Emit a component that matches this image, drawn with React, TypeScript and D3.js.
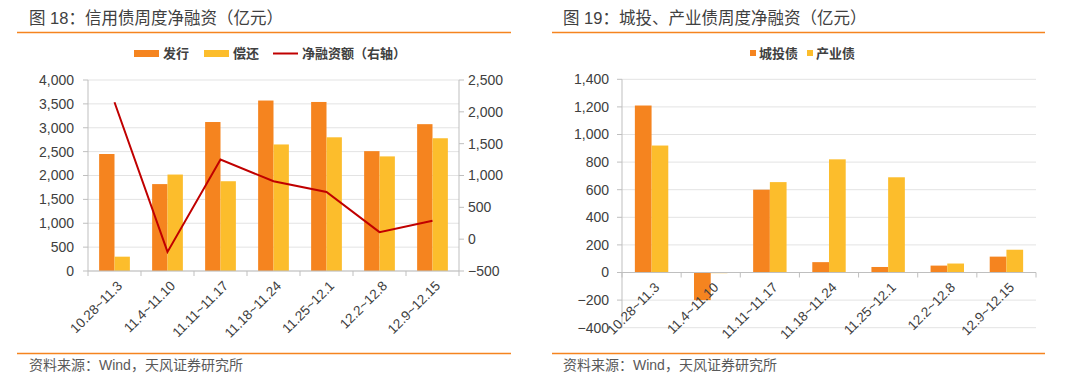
import React, { useRef, useEffect } from 'react';
import * as d3 from 'd3';

const weeks = ['10.28~11.3', '11.4~11.10', '11.11~11.17', '11.18~11.24', '11.25~12.1', '12.2~12.8', '12.9~12.15'];

// 图18
const issuance = [2450, 1820, 3120, 3570, 3540, 2510, 3075];
const repayment = [300, 2020, 1880, 2650, 2800, 2400, 2780];
const netFinancing = [2150, -200, 1250, 910, 740, 110, 290];

// 图19
const chengtou = [1210, -200, 600, 75, 40, 50, 115];
const chanye = [920, -5, 655, 820, 690, 65, 165];

const leftTicks = [0, 500, 1000, 1500, 2000, 2500, 3000, 3500, 4000];
const rightTicks = [-500, 0, 500, 1000, 1500, 2000, 2500];
const fig19Ticks = [-400, -200, 0, 200, 400, 600, 800, 1000, 1200, 1400];

const ORANGE = '#F5841F';
const YELLOW = '#FCBD2C';
const RED = '#C00000';
const GRID = '#E3E3E3';
const AXIS = '#BFBFBF';
const TEXT = '#404040';
const FONT = '"Liberation Sans", Arial, "Noto Sans CJK SC", sans-serif';

const fmt = d3.format(',');

const App = () => {
  const ref = useRef(null);

  useEffect(() => {
    const svg = d3.select(ref.current);
    svg.selectAll('*').remove();
    svg.attr('width', 1080).attr('height', 385).style('font-family', FONT);

    // frame: titles, rules, sources
    const panels = [
      { x0: 17, x1: 511, tx: 29, title: '图 18：信用债周度净融资（亿元）' },
      { x0: 552, x1: 1045, tx: 563, title: '图 19：城投、产业债周度净融资（亿元）' },
    ];
    panels.forEach(p => {
      svg.append('text').attr('x', p.tx).attr('y', 24).text(p.title)
        .style('font-size', '16.5px').style('fill', TEXT);
      svg.append('line').attr('x1', p.x0).attr('x2', p.x1).attr('y1', 32.5).attr('y2', 32.5)
        .attr('stroke', ORANGE).attr('stroke-width', 1.5);
      svg.append('line').attr('x1', p.x0).attr('x2', p.x1).attr('y1', 353.5).attr('y2', 353.5)
        .attr('stroke', ORANGE).attr('stroke-width', 1.5);
      svg.append('text').attr('x', p.tx).attr('y', 370).text('资料来源：Wind，天风证券研究所')
        .style('font-size', '14px').style('fill', '#595959');
    });

    const xLabels = (g, x, y0) => {
      g.selectAll('text.xl').data(weeks).enter().append('text')
        .attr('transform', d => `translate(${x(d) + x.bandwidth() / 2 + 2},${y0 + 9}) rotate(-45)`)
        .attr('text-anchor', 'end').attr('dy', '0.7em')
        .style('font-size', '13.5px').style('fill', TEXT)
        .text(d => d);
    };

    const catTicks = (g, x, y0) => {
      const edges = weeks.map(d => x(d)).concat([x.range()[1]]);
      g.selectAll('line.ct').data(edges).enter().append('line')
        .attr('x1', d => d).attr('x2', d => d).attr('y1', y0).attr('y2', y0 + 5)
        .attr('stroke', AXIS);
    };

    // ---------- 图18 ----------
    {
      const g = svg.append('g');
      const x = d3.scaleBand().domain(weeks).range([88, 459]);
      const y = d3.scaleLinear().domain([0, 4000]).range([271, 80]);
      const yR = d3.scaleLinear().domain([-500, 2500]).range([271, 80]);
      const group = x.bandwidth() * 0.58;
      const xs = d3.scaleBand().domain(['a', 'b']).range([0, group]);
      const off = (x.bandwidth() - group) / 2;

      g.selectAll('line.grid').data(leftTicks).enter().append('line')
        .attr('x1', 88).attr('x2', 459).attr('y1', d => y(d)).attr('y2', d => y(d))
        .attr('stroke', GRID);

      const series = [issuance, repayment];
      const colors = [ORANGE, YELLOW];
      series.forEach((s, i) => {
        g.selectAll(`rect.s${i}`).data(s).enter().append('rect')
          .attr('x', (d, j) => x(weeks[j]) + off + xs(['a', 'b'][i]))
          .attr('width', xs.bandwidth())
          .attr('y', d => y(d)).attr('height', d => y(0) - y(d))
          .attr('fill', colors[i]);
      });

      const line = d3.line().x((d, j) => x(weeks[j]) + x.bandwidth() / 2).y(d => yR(d));
      g.append('path').datum(netFinancing).attr('d', line)
        .attr('fill', 'none').attr('stroke', RED).attr('stroke-width', 2);

      // axes
      g.append('line').attr('x1', 88).attr('x2', 88).attr('y1', 80).attr('y2', 271).attr('stroke', AXIS);
      g.append('line').attr('x1', 459).attr('x2', 459).attr('y1', 80).attr('y2', 271).attr('stroke', AXIS);
      g.append('line').attr('x1', 88).attr('x2', 459).attr('y1', 271).attr('y2', 271).attr('stroke', AXIS);

      g.selectAll('line.lt').data(leftTicks).enter().append('line')
        .attr('x1', 83).attr('x2', 88).attr('y1', d => y(d)).attr('y2', d => y(d)).attr('stroke', AXIS);
      g.selectAll('text.ly').data(leftTicks).enter().append('text')
        .attr('x', 74).attr('y', d => y(d)).attr('dy', '0.35em').attr('text-anchor', 'end')
        .style('font-size', '14px').style('fill', TEXT).text(d => fmt(d));

      g.selectAll('line.rt').data(rightTicks).enter().append('line')
        .attr('x1', 459).attr('x2', 464).attr('y1', d => yR(d)).attr('y2', d => yR(d)).attr('stroke', AXIS);
      g.selectAll('text.ry').data(rightTicks).enter().append('text')
        .attr('x', 468).attr('y', d => yR(d)).attr('dy', '0.35em')
        .style('font-size', '14px').style('fill', TEXT).text(d => fmt(d));

      catTicks(g, x, 271);
      xLabels(g, x, 271);

      // legend
      const lg = g.append('g').style('font-size', '13px').style('font-weight', 'bold').style('fill', TEXT);
      lg.append('rect').attr('x', 134).attr('y', 50).attr('width', 25).attr('height', 7).attr('fill', ORANGE);
      lg.append('text').attr('x', 163).attr('y', 58).text('发行');
      lg.append('rect').attr('x', 204).attr('y', 50).attr('width', 25).attr('height', 7).attr('fill', YELLOW);
      lg.append('text').attr('x', 233).attr('y', 58).text('偿还');
      lg.append('line').attr('x1', 273).attr('x2', 298).attr('y1', 53.5).attr('y2', 53.5)
        .attr('stroke', RED).attr('stroke-width', 2);
      lg.append('text').attr('x', 302).attr('y', 58).text('净融资额（右轴）');
    }

    // ---------- 图19 ----------
    {
      const g = svg.append('g');
      const x = d3.scaleBand().domain(weeks).range([622, 1036]);
      const y = d3.scaleLinear().domain([-400, 1400]).range([327.7, 79.3]);
      const group = x.bandwidth() * 0.565;
      const xs = d3.scaleBand().domain(['a', 'b']).range([0, group]);
      const off = (x.bandwidth() - group) / 2;

      g.selectAll('line.grid').data(fig19Ticks).enter().append('line')
        .attr('x1', 622).attr('x2', 1036).attr('y1', d => y(d)).attr('y2', d => y(d))
        .attr('stroke', GRID);

      const series = [chengtou, chanye];
      const colors = [ORANGE, YELLOW];
      series.forEach((s, i) => {
        g.selectAll(`rect.s${i}`).data(s).enter().append('rect')
          .attr('x', (d, j) => x(weeks[j]) + off + xs(['a', 'b'][i]))
          .attr('width', xs.bandwidth())
          .attr('y', d => Math.min(y(d), y(0))).attr('height', d => Math.abs(y(0) - y(d)))
          .attr('fill', colors[i]);
      });

      g.append('line').attr('x1', 622).attr('x2', 622).attr('y1', 79.3).attr('y2', 327.7).attr('stroke', AXIS);
      g.append('line').attr('x1', 622).attr('x2', 1036).attr('y1', y(0)).attr('y2', y(0)).attr('stroke', AXIS);

      g.selectAll('line.lt').data(fig19Ticks).enter().append('line')
        .attr('x1', 617).attr('x2', 622).attr('y1', d => y(d)).attr('y2', d => y(d)).attr('stroke', AXIS);
      g.selectAll('text.ly').data(fig19Ticks).enter().append('text')
        .attr('x', 609).attr('y', d => y(d)).attr('dy', '0.35em').attr('text-anchor', 'end')
        .style('font-size', '14px').style('fill', TEXT).text(d => fmt(d));

      catTicks(g, x, y(0));
      xLabels(g, x, y(0));

      const lg = g.append('g').style('font-size', '13px').style('font-weight', 'bold').style('fill', TEXT);
      lg.append('rect').attr('x', 750).attr('y', 50).attr('width', 6).attr('height', 6).attr('fill', ORANGE);
      lg.append('text').attr('x', 759).attr('y', 58).text('城投债');
      lg.append('rect').attr('x', 807).attr('y', 50).attr('width', 6).attr('height', 6).attr('fill', YELLOW);
      lg.append('text').attr('x', 816).attr('y', 58).text('产业债');
    }
  }, []);

  return <svg ref={ref} style={{ position: 'absolute', left: 0, top: 0, background: '#fff' }}></svg>;
};

export default App;
